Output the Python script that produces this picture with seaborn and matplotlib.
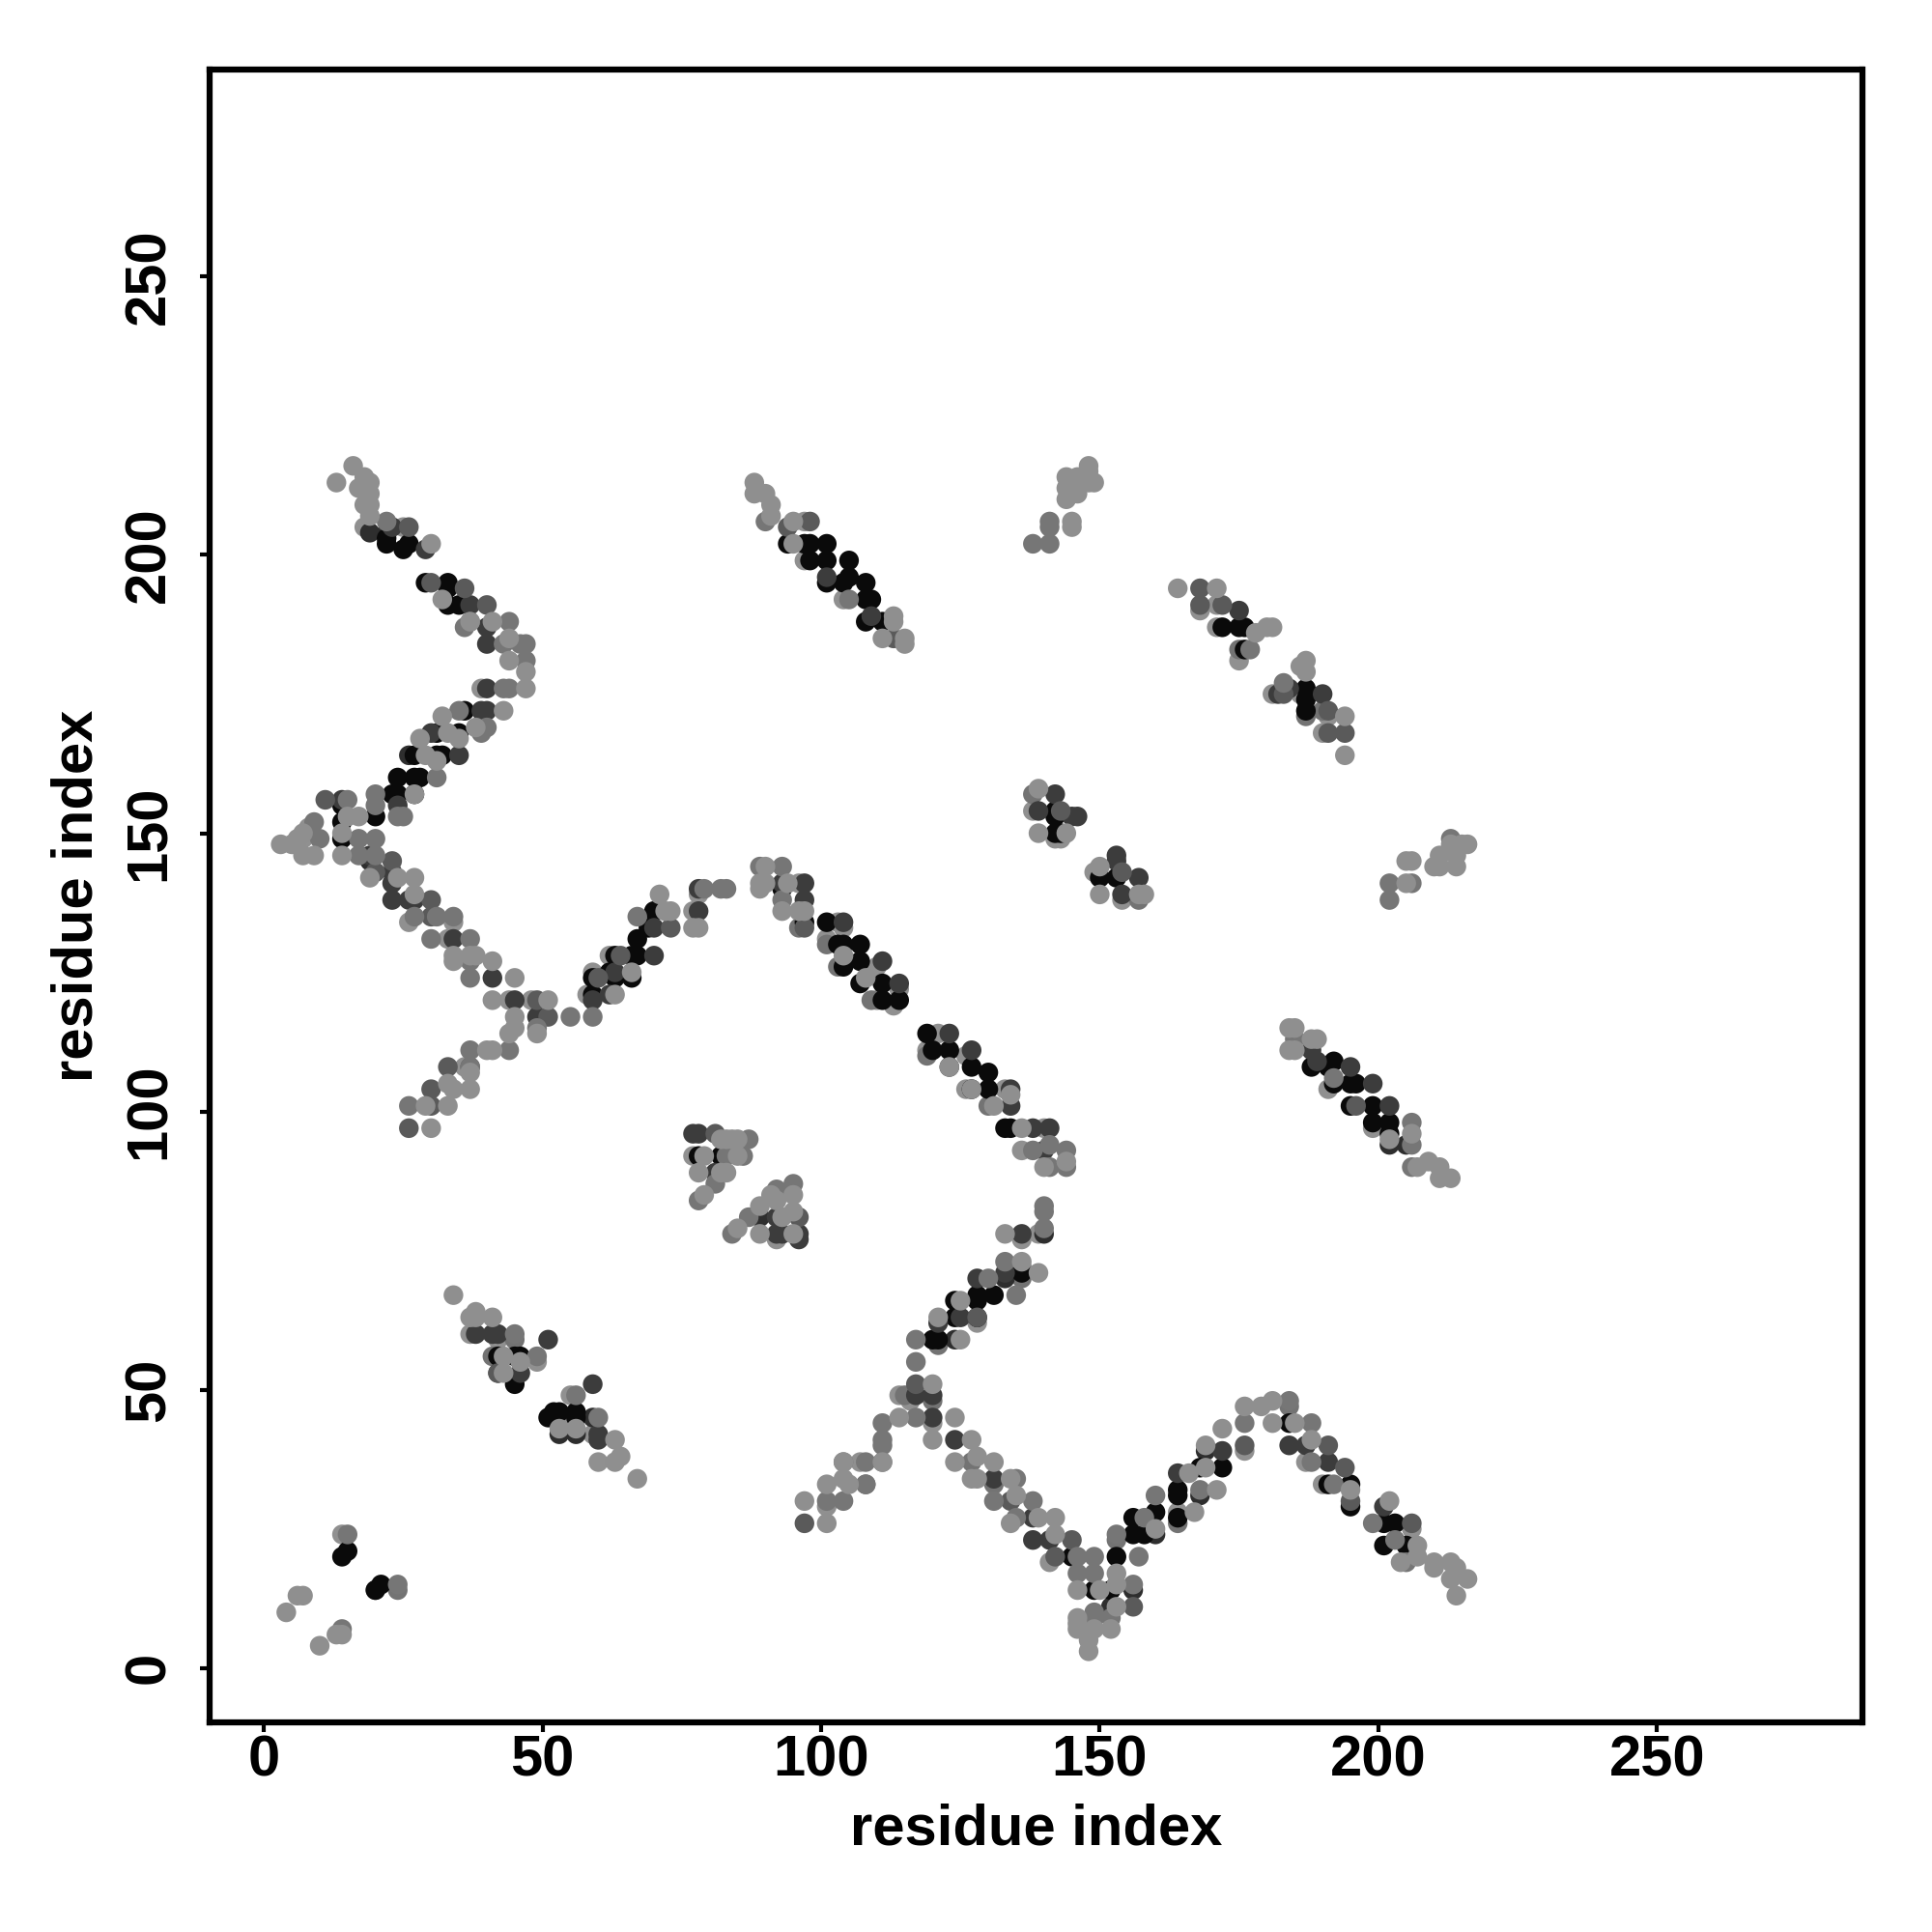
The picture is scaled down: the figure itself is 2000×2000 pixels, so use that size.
import pandas as pd
import matplotlib.pyplot as plt
import seaborn as sns

# residue contacts, grouped by grey level
# under_* are the dots that sit beneath the others
under_light = [
    (18, 205), (25, 205), (39, 176), (26, 134), (34, 134), (33, 131), (36, 108), (44, 120), (48, 120),
    (58, 121), (59, 125), (62, 128), (70, 136), (77, 136), (78, 139), (97, 199), (104, 192), (97, 206),
    (168, 190), (171, 191), (171, 187), (175, 181), (181, 175), (186, 175), (191, 171), (190, 168),
    (138, 154), (143, 149), (142, 149), (149, 143), (154, 138), (96, 141), (103, 134), (104, 133),
    (101, 131), (110, 126), (114, 122), (110, 120), (113, 119), (121, 114), (119, 111), (126, 110),
    (126, 104), (133, 104), (140, 97), (136, 93), (77, 92), (92, 77), (136, 77), (139, 78), (128, 62),
    (114, 49), (116, 48), (120, 44), (107, 37), (101, 29), (141, 19), (164, 28), (176, 39), (187, 37),
    (190, 33), (206, 25), (199, 97), (191, 104), (37, 60), (42, 59), (49, 55), (55, 49), (55, 45),
    (59, 42), (60, 37), (14, 24), (6, 148), (7, 149), (8, 151),
]
under_mid = [
    (138, 157), (175, 183), (187, 171), (190, 172), (157, 138), (96, 133), (101, 130), (103, 126),
    (109, 120), (119, 110), (130, 101), (136, 70), (136, 72), (121, 58), (115, 49), (120, 48), (127, 37),
    (131, 33), (153, 23), (184, 47), (24, 14), (20, 14), (45, 59), (41, 56), (164, 26),
]
under_dark = [
    (19, 204), (26, 164), (89, 81), (140, 78), (133, 70), (124, 59), (156, 14), (152, 11), (160, 24),
    (168, 31), (169, 39), (202, 94), (205, 94), (42, 53), (53, 42), (56, 42), (59, 45), (123, 108),
    (22, 204), (19, 145),
]
black = [
    (22, 202), (22, 203), (25, 201), (26, 202), (29, 195), (33, 195), (33, 194), (33, 191), (35, 191),
    (36, 172), (35, 168), (31, 168), (27, 164), (31, 164), (32, 164), (24, 160), (27, 160), (28, 160),
    (27, 157), (23, 157), (24, 157), (20, 153), (14, 155), (14, 152), (14, 149),
    (59, 121), (59, 124), (62, 125), (63, 124), (66, 124), (63, 128), (66, 128), (67, 128), (67, 131),
    (69, 133), (70, 136), (94, 202), (97, 202), (98, 202), (101, 202), (98, 199), (101, 199), (105, 199),
    (101, 195), (104, 195), (105, 196), (108, 195), (108, 192), (109, 192), (108, 188), (111, 188),
    (172, 187), (175, 187), (176, 187), (176, 183), (187, 176), (187, 174), (187, 172),
    (142, 154), (142, 153), (142, 150), (143, 150), (150, 142), (153, 142),
    (93, 140), (97, 134), (101, 134), (103, 130), (104, 130), (107, 130), (104, 126), (107, 127),
    (107, 123), (111, 123), (114, 120), (111, 120), (119, 114), (120, 111), (123, 111), (127, 108),
    (130, 107), (127, 104), (130, 104), (133, 97), (134, 97), (78, 92), (82, 92),
    (136, 71), (131, 67), (128, 67), (128, 66), (124, 66), (128, 63), (124, 63), (120, 59), (121, 59),
    (145, 20), (153, 20), (156, 24), (158, 24), (149, 14), (152, 14), (156, 27), (160, 28), (164, 27),
    (164, 32), (164, 31), (168, 36), (172, 36), (184, 44), (191, 33), (195, 33), (195, 29),
    (201, 26), (203, 26), (201, 22), (205, 22), (188, 108), (191, 108), (192, 109), (192, 105), (195, 105),
    (196, 105), (195, 101), (199, 101), (199, 98), (202, 98), (202, 96),
    (42, 56), (45, 56), (46, 56), (45, 51), (51, 45), (52, 46), (53, 46), (56, 46), (56, 45),
    (14, 20), (15, 21), (20, 14), (21, 15),
]
dark = [
    (23, 205), (29, 201), (37, 191), (40, 187), (40, 184), (40, 176), (39, 172), (40, 172), (30, 168),
    (35, 164), (24, 155), (14, 156), (19, 146), (23, 143), (23, 141), (23, 138), (26, 138), (27, 138),
    (34, 131), (41, 124), (45, 120), (49, 117), (62, 121), (59, 120), (63, 125), (70, 128), (70, 133),
    (78, 136), (78, 140), (101, 196), (109, 189), (175, 190), (182, 175), (184, 176), (190, 175),
    (142, 157), (139, 154), (145, 153), (146, 153), (153, 146), (153, 145), (157, 142), (154, 139),
    (93, 141), (97, 141), (97, 138), (104, 134), (111, 127), (114, 123), (123, 114), (127, 111),
    (134, 104), (134, 101), (138, 97), (141, 97), (140, 93), (77, 96), (78, 96), (81, 89), (92, 81),
    (92, 78), (93, 78), (96, 78), (96, 77), (136, 78), (133, 71), (128, 70), (121, 62), (125, 63),
    (117, 49), (120, 49), (120, 45), (124, 41), (131, 34), (138, 27), (138, 23), (141, 23),
    (164, 35), (172, 39), (184, 40), (187, 40), (191, 37), (201, 29), (188, 111), (189, 109),
    (195, 108), (199, 105), (202, 101), (38, 60), (41, 60), (42, 60), (51, 59), (46, 53), (59, 51),
    (60, 42), (60, 41),
]
dark_mid = [
    (26, 205), (30, 195), (40, 191), (36, 194), (11, 156), (23, 145), (20, 143), (30, 138), (30, 135),
    (49, 120), (51, 117), (33, 108), (37, 108), (30, 104), (30, 101), (26, 97), (60, 124), (64, 128),
    (73, 133), (94, 205), (98, 206), (113, 185), (168, 194), (168, 191), (172, 191), (183, 175), (191, 172),
    (191, 168), (194, 168), (143, 154), (154, 143), (97, 133), (81, 96), (96, 81), (128, 63), (117, 51),
    (176, 40), (191, 40), (194, 36), (195, 30), (206, 26), (97, 26), (108, 33), (134, 30), (145, 23),
    (142, 20), (156, 11), (196, 101), (42, 53),
]
mid = [
    (22, 206), (36, 187), (37, 188), (44, 188), (43, 184), (47, 184), (46, 184), (47, 181), (44, 176),
    (43, 176), (35, 172), (40, 169), (39, 168), (31, 160), (20, 157), (20, 155), (24, 153), (25, 153),
    (15, 156), (9, 152), (10, 149), (17, 149), (20, 149), (17, 146), (20, 146),
    (27, 135), (31, 135), (34, 135), (30, 131), (37, 131), (37, 127), (37, 124), (55, 117), (59, 117),
    (49, 115), (37, 111), (44, 111), (37, 108), (26, 101),
    (67, 135), (79, 140), (82, 140), (83, 140), (90, 206), (105, 192), (138, 202), (141, 202), (141, 206),
    (141, 205), (177, 183), (183, 177), (206, 141), (202, 141), (202, 138), (213, 149),
    (89, 144), (93, 144), (93, 138), (138, 93), (141, 94), (144, 93), (141, 90), (144, 90),
    (87, 95), (83, 92), (86, 92), (81, 87), (78, 84), (84, 78), (87, 81), (92, 86), (95, 87),
    (140, 83), (140, 82), (140, 79), (133, 73), (130, 70), (135, 67), (117, 59), (117, 55), (117, 45),
    (111, 44), (111, 41), (111, 40), (111, 37), (108, 37), (104, 37), (101, 30), (104, 30), (108, 33),
    (135, 34), (131, 30), (138, 30), (135, 27), (146, 20), (149, 20), (146, 17), (149, 17), (153, 24),
    (157, 20), (156, 15), (149, 10), (149, 9), (152, 9), (158, 27), (160, 31), (168, 32), (176, 44),
    (184, 48), (188, 44), (188, 37), (192, 33), (199, 26), (203, 23), (205, 19),
    (185, 113), (192, 106), (206, 98), (206, 94), (206, 90), (45, 60), (49, 56), (56, 49), (60, 45),
    (15, 24), (24, 15), (14, 7),
]
light = [
    (13, 213), (16, 216), (18, 214), (19, 213), (17, 212), (19, 211), (18, 209), (19, 209), (19, 207),
    (30, 202), (32, 192), (37, 188), (41, 188), (44, 185), (44, 181), (47, 179), (47, 176), (43, 172),
    (32, 171), (38, 169), (33, 168), (35, 167), (28, 167), (29, 164), (31, 163), (27, 157), (17, 153),
    (15, 153), (3, 148), (5, 148), (6, 149), (7, 150), (7, 146), (9, 146), (14, 150), (14, 146),
    (19, 142), (24, 142), (27, 142), (27, 139),
    (34, 128), (34, 127), (37, 128), (38, 128), (41, 127), (45, 124), (41, 120), (51, 120), (45, 117),
    (49, 114), (44, 114), (45, 115), (40, 111), (41, 111), (37, 107), (33, 105), (34, 104), (37, 104),
    (29, 101), (33, 101), (30, 97),
    (63, 121), (66, 125), (72, 136), (73, 136), (71, 139), (77, 133), (78, 133),
    (88, 213), (88, 211), (90, 211), (91, 209), (91, 207), (95, 206), (95, 202), (113, 189), (113, 188),
    (111, 185), (115, 185), (115, 184),
    (145, 206), (145, 205), (144, 214), (144, 212), (144, 210), (146, 214), (146, 211), (148, 216),
    (148, 215), (149, 213), (148, 213),
    (164, 194), (171, 194), (178, 186), (180, 187), (181, 187), (187, 181), (186, 180), (187, 179),
    (194, 171), (194, 164), (139, 158), (139, 150), (144, 150), (150, 144), (150, 139), (157, 139), (158, 139),
    (205, 141), (205, 145), (206, 145), (210, 144), (211, 146), (211, 144), (214, 144), (214, 146),
    (214, 147), (213, 148), (215, 148), (216, 148),
    (90, 144), (89, 141), (89, 140), (90, 141), (94, 141), (93, 136), (96, 136), (97, 136), (104, 128),
    (108, 124), (123, 108), (127, 104), (131, 101), (134, 103), (136, 97), (140, 90), (144, 91),
    (82, 95), (83, 95), (84, 95), (85, 95), (79, 92), (85, 92), (78, 89), (82, 89), (83, 89), (79, 85),
    (85, 79), (89, 83), (89, 78), (91, 85), (92, 84), (93, 81), (95, 85), (95, 82), (95, 78),
    (133, 78), (136, 73), (139, 71), (125, 66), (121, 63), (125, 59), (120, 51), (114, 45), (124, 45),
    (120, 41), (127, 41), (124, 37), (128, 38), (131, 37), (127, 34), (128, 34), (134, 34), (101, 33),
    (104, 34), (105, 33), (104, 37), (111, 37), (97, 30), (101, 26), (135, 31), (134, 26), (139, 27),
    (142, 27), (142, 24), (146, 14), (150, 14), (153, 15), (153, 17), (153, 11), (146, 9), (146, 8),
    (146, 7), (149, 7), (152, 7), (148, 3), (148, 5), (160, 25), (167, 28), (166, 35), (169, 36), (171, 32),
    (172, 43), (169, 40), (176, 47), (179, 47), (181, 48), (181, 44), (185, 44), (188, 41), (195, 32),
    (202, 30), (207, 22), (204, 19), (207, 20), (210, 19), (210, 18), (213, 19), (214, 18), (213, 16),
    (216, 16), (214, 13), (184, 115), (185, 115), (184, 111), (185, 111), (188, 113), (189, 113),
    (202, 95), (206, 96), (207, 90), (209, 91), (211, 90), (211, 88), (213, 88),
    (34, 67), (37, 63), (38, 64), (38, 63), (41, 63), (43, 56), (46, 55), (43, 53), (53, 43), (56, 43),
    (63, 41), (63, 37), (64, 38), (67, 34), (6, 13), (7, 13), (4, 10), (13, 6), (14, 6), (10, 4),
]
tick_values = [0, 50, 100, 150, 200, 250]

shade_colors = {
    "under_light": "#909090", "under_mid": "#737373", "under_dark": "#2e2e2e",
    "black": "#0a0a0a", "dark": "#3c3c3c", "dark_mid": "#5a5a5a", "mid": "#767676", "light": "#8f8f8f",
}
layers = [
    ("under_light", under_light), ("under_mid", under_mid), ("under_dark", under_dark),
    ("black", black), ("dark", dark), ("dark_mid", dark_mid), ("mid", mid), ("light", light),
]
df = pd.DataFrame(
    [(x, y, name) for name, pts in layers for x, y in pts],
    columns=["i", "j", "shade"],
)

sns.set_theme(style="white")
plt.rcParams['font.family'] = ['Liberation Sans', 'DejaVu Sans']

fig = plt.figure(figsize=(20, 20), dpi=100)
ax = fig.add_axes([217 / 2000, 1 - 1782.7 / 2000, (1927.5 - 217) / 2000, (1782.7 - 71.5) / 2000])
sns.scatterplot(data=df, x="i", y="j", hue="shade", palette=shade_colors,
                s=215, linewidth=0, legend=False, ax=ax)

ax.set_xlim(-9.76, 286.8)
ax.set_ylim(-9.72, 287.3)
ax.set_xticks(tick_values)
ax.set_yticks(tick_values)
ax.tick_params(length=7, width=3, color="black", labelsize=43, labelcolor="black", bottom=True, left=True)
ax.tick_params(axis="x", pad=2)
ax.tick_params(axis="y", pad=18)
for label in ax.get_xticklabels():
    label.set_fontweight("bold")
for label in ax.get_yticklabels():
    label.set_fontweight("bold")
    label.set_rotation(90)
    label.set_va("center")
ax.set_xlabel("residue index", fontsize=43, fontweight="bold", color="black", labelpad=12)
ax.set_ylabel("residue index", fontsize=43, fontweight="bold", color="black", labelpad=14)
for side in ax.spines.values():
    side.set_visible(True)
    side.set_color("black")
    side.set_linewidth(4.5)

fig.savefig("out.png", dpi=100)
